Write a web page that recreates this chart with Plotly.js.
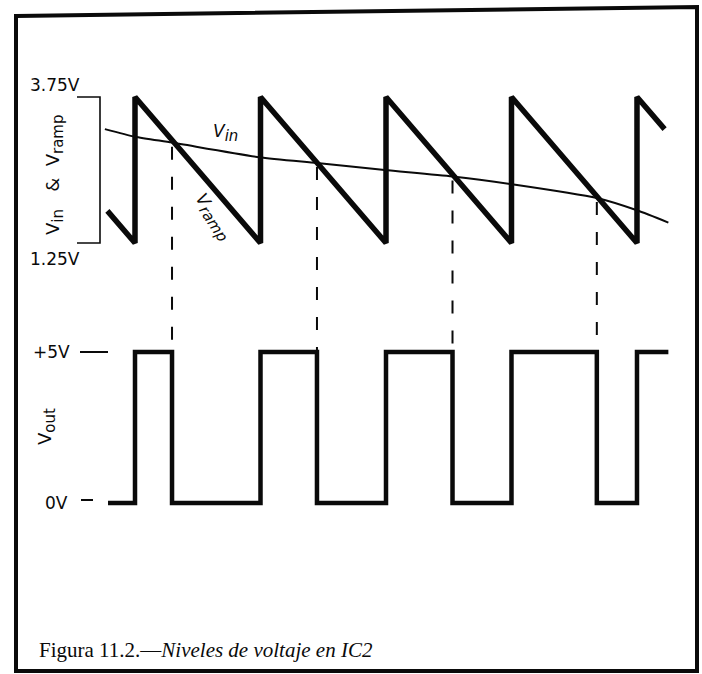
<!DOCTYPE html>
<html>
<head>
<meta charset="utf-8">
<script src="https://cdn.plot.ly/plotly-3.0.1.min.js"></script>
<style>html,body{margin:0;padding:0;background:#fff;}#chart{width:702px;height:674px;}</style>
</head>
<body>
<div id="chart"></div>
<script>
// ---- data (time in ramp periods, voltages in V) ----
const rampT = [-0.22, 0, 0, 1, 1, 2, 2, 3, 3, 4, 4, 4.22];
const rampV = [1.80, 1.25, 3.75, 1.25, 3.75, 1.25, 3.75, 1.25, 3.75, 1.25, 3.75, 3.20];
const vinT = [-0.24, 0, 0.295, 0.99, 1.45, 1.99, 2.53, 2.99, 3.68, 4.0, 4.25];
const vinV = [3.20, 3.07, 2.97, 2.72, 2.62, 2.50, 2.39, 2.26, 2.02, 1.81, 1.60];
const outT = [-0.215, 0, 0, 0.295, 0.295, 1, 1, 1.45, 1.45, 2, 2, 2.53, 2.53, 3, 3, 3.68, 3.68, 4, 4, 4.25];
const outV = [0, 0, 5, 5, 0, 0, 5, 5, 0, 0, 5, 5, 0, 0, 5, 5, 0, 0, 5, 5];
const crossT = [0.295, 1.45, 2.53, 3.68];
const crossV = [2.97, 2.62, 2.39, 2.02];
const topTicks = [3.75, 1.25];
const topTickLabels = ['3.75V', '1.25V'];
const outTicks = [5, 0];
const outTickLabels = ['+5V', '0V'];
const caption = 'Figura 11.2.—<i>Niveles de voltaje en IC2</i>';

// ---- layout ranges (axes span whole figure) ----
const xr = [-1.0757, 4.518];
const yr = [-6.130, 5.411];
const y2r = [-5.662, 16.656];
function y2ToY(v) { return yr[0] + (v - y2r[0]) * (yr[1] - yr[0]) / (y2r[1] - y2r[0]); }

const ink = '#0a0a0a';
const traces = [
  {x: rampT, y: rampV, mode: 'lines', line: {color: ink, width: 5.5, shape: 'linear'}, yaxis: 'y', hoverinfo: 'skip'},
  {x: vinT, y: vinV, mode: 'lines', line: {color: ink, width: 2, shape: 'spline', smoothing: 0.6}, yaxis: 'y', hoverinfo: 'skip'},
  {x: outT, y: outV, mode: 'lines', line: {color: ink, width: 4.5}, yaxis: 'y2', hoverinfo: 'skip'}
];
// dashed drop lines from crossings to the +5V level
crossT.forEach((t, i) => {
  traces.push({x: [t, t], y: [crossV[i] - 0.07, y2ToY(outTicks[0])], mode: 'lines',
    line: {color: ink, width: 2, dash: '13px,17px'}, yaxis: 'y', hoverinfo: 'skip'});
});

const sans = 'DejaVu Sans, Arial, sans-serif';
const sansFont = {family: sans, size: 17, color: ink};
const W = 702, H = 674;
const px = v => v / W;
const py = v => 1 - v / H;
const sub = s => '<sub><span style="font-size:15px">' + s + '</span></sub>';

function note(o) { return Object.assign({showarrow: false, xanchor: 'center', yanchor: 'middle'}, o); }

const annotations = [
  note({xref: 'paper', yref: 'y', x: px(28), y: topTicks[0], xanchor: 'left', yanchor: 'bottom', text: topTickLabels[0], font: sansFont}),
  note({xref: 'paper', yref: 'y', x: px(28), y: topTicks[1], xanchor: 'left', yanchor: 'top', yshift: -4, text: topTickLabels[1], font: sansFont}),
  note({xref: 'paper', yref: 'y2', x: px(72), y: outTicks[0], xanchor: 'right', text: outTickLabels[0], font: sansFont}),
  note({xref: 'paper', yref: 'y2', x: px(70), y: outTicks[1], xanchor: 'right', text: outTickLabels[1], font: sansFont}),
  note({xref: 'paper', yref: 'paper', x: px(54), y: py(175), textangle: -90, text: 'V' + sub('in') + '   &amp;  V' + sub('ramp'), font: {family: sans, size: 18, color: ink}}),
  note({xref: 'paper', yref: 'paper', x: px(47), y: py(427), textangle: -90, text: 'V' + sub('out'), font: {family: sans, size: 18, color: ink}}),
  note({xref: 'paper', yref: 'paper', x: px(225), y: py(133), text: '<i>V' + sub('in') + '</i>', font: {family: sans, size: 17, color: ink}}),
  note({xref: 'paper', yref: 'paper', x: px(212), y: py(217), textangle: 57, text: '<i>V' + sub('ramp') + '</i>', font: {family: sans, size: 17, color: ink}}),
  note({xref: 'paper', yref: 'paper', x: px(37), y: py(650), xanchor: 'left', text: caption, font: {family: 'Liberation Serif, Times New Roman, serif', size: 21, color: ink}})
];

const shapes = [
  // bracket for top panel
  {type: 'path', xref: 'paper', yref: 'y', path: `M ${px(77)} ${topTicks[0]} L ${px(100)} ${topTicks[0]} L ${px(100)} ${topTicks[1]} L ${px(77)} ${topTicks[1]}`, line: {color: ink, width: 1.6}},
  // tick dashes for bottom panel
  {type: 'line', xref: 'paper', yref: 'y2', x0: px(80), x1: px(108), y0: outTicks[0], y1: outTicks[0], line: {color: ink, width: 2}},
  {type: 'line', xref: 'paper', yref: 'y2', x0: px(81), x1: px(93), y0: outTicks[1] + 0.1, y1: outTicks[1] + 0.1, line: {color: ink, width: 2}},
  // frame
  {type: 'path', xref: 'paper', yref: 'paper', path: `M ${px(16)} ${py(16)} L ${px(697)} ${py(7)} L ${px(697)} ${py(671)} L ${px(16)} ${py(671)} Z`, line: {color: ink, width: 4}}
];

const hidden = {visible: false, fixedrange: true, showgrid: false, zeroline: false};
const layout = {
  width: W, height: H, autosize: false,
  margin: {l: 0, r: 0, t: 0, b: 0, pad: 0},
  paper_bgcolor: '#fff', plot_bgcolor: '#fff',
  showlegend: false,
  xaxis: Object.assign({range: xr, domain: [0, 1]}, hidden),
  yaxis: Object.assign({range: yr, domain: [0, 1]}, hidden),
  yaxis2: Object.assign({range: y2r, overlaying: 'y', domain: [0, 1]}, hidden),
  annotations: annotations,
  shapes: shapes
};
Plotly.newPlot('chart', traces, layout, {staticPlot: true, displayModeBar: false});
</script>
</body>
</html>
